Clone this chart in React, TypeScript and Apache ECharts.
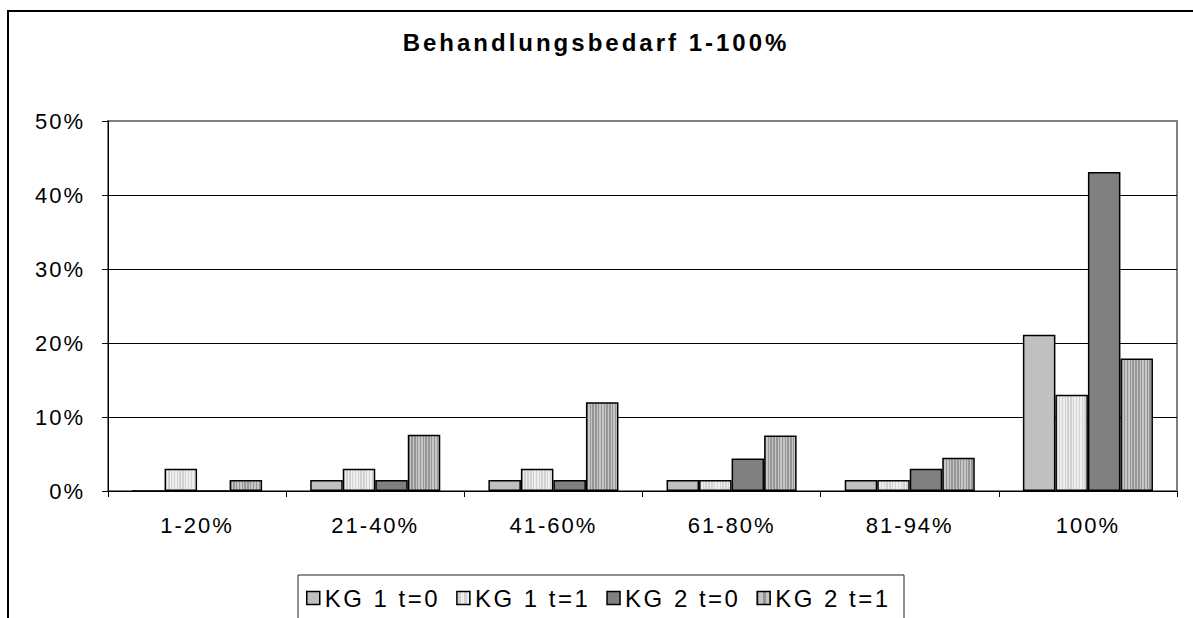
import React, { useEffect, useRef } from "react";
import * as echarts from "echarts";

const titleText = "Behandlungsbedarf 1-100%";
const categories = ["1-20%", "21-40%", "41-60%", "61-80%", "81-94%", "100%"];
const seriesNames = ["KG 1 t=0", "KG 1 t=1", "KG 2 t=0", "KG 2 t=1"];
const kg1t0 = [0, 1.5, 1.5, 1.5, 1.5, 21.1];
const kg1t1 = [3.0, 3.0, 3.0, 1.5, 1.5, 13.0];
const kg2t0 = [0, 1.5, 1.5, 4.4, 3.0, 43.1];
const kg2t1 = [1.5, 7.6, 12.0, 7.5, 4.5, 17.9];
const yMin = 0;
const yMax = 50;
const yStep = 10;

const FONT = "'Liberation Sans', Arial, sans-serif";

function stripes(a: string, b: string, n: number) {
  const stops: { offset: number; color: string }[] = [];
  for (let i = 0; i < n; i++) {
    const s = i / n;
    const m = (i + 0.5) / n;
    const e = (i + 1) / n;
    stops.push({ offset: s, color: a });
    stops.push({ offset: m, color: a });
    stops.push({ offset: m, color: b });
    stops.push({ offset: e, color: b });
  }
  return { type: "linear", x: 0, y: 0, x2: 1, y2: 0, colorStops: stops };
}

export default function App() {
  const ref = useRef<HTMLDivElement>(null);
  useEffect(() => {
    const el = ref.current!;
    const chart = echarts.init(el, null, { renderer: "svg" });
    const applySpacing = () => {
      el.querySelectorAll("text").forEach((t) => {
        const s = t.textContent || "";
        const ls = s.startsWith("Behandlungs") ? 3 : s.startsWith("KG") ? 2.5 : 2;
        t.setAttribute("letter-spacing", ls + "px");
      });
    };
    chart.on("rendered", applySpacing);
    const colors = [
      "#c0c0c0",
      stripes("#d2d2d2", "#efefef", 11),
      "#808080",
      stripes("#969696", "#c6c6c6", 11),
    ];
    const data = [kg1t0, kg1t1, kg2t0, kg2t1];
    chart.setOption({
      animation: false,
      backgroundColor: "#ffffff",
      graphic: [
        {
          type: "rect",
          z: 0,
          shape: { x: 8, y: 11, width: 1400, height: 900 },
          style: { fill: "none", stroke: "#000", lineWidth: 2 },
        },
        {
          type: "rect",
          z: 0,
          shape: { x: 298, y: 575, width: 606, height: 100 },
          style: { fill: "none", stroke: "#202020", lineWidth: 1 },
        },
        {
          type: "text",
          x: 596,
          y: 42,
          style: {
            text: titleText,
            textAlign: "center",
            textVerticalAlign: "middle",
            font: `bold 24px ${FONT}`,
            fill: "#000",
          },
        },
      ],
      grid: {
        left: 108,
        right: 16,
        top: 121,
        bottom: 127,
        show: true,
        borderColor: "#808080",
        borderWidth: 2,
        containLabel: false,
      },
      legend: {
        data: seriesNames,
        left: 306,
        top: 586,
        padding: 0,
        itemWidth: 13,
        itemHeight: 13,
        itemGap: 36,
        icon: "rect",
        itemStyle: { borderColor: "#000", borderWidth: 1.5 },
        textStyle: { fontSize: 24, fontFamily: FONT, color: "#000" },
      },
      xAxis: {
        type: "category",
        data: categories,
        axisLine: { show: true, lineStyle: { color: "#000", width: 1 } },
        axisTick: { show: true, length: 6, lineStyle: { color: "#000" } },
        axisLabel: {
          fontSize: 22,
          fontFamily: FONT,
          color: "#000",
          margin: 23,
          interval: 0,
        },
        splitLine: { show: false },
      },
      yAxis: {
        type: "value",
        min: yMin,
        max: yMax,
        interval: yStep,
        axisLine: { show: true, lineStyle: { color: "#000", width: 1 } },
        axisTick: { show: true, length: 6, lineStyle: { color: "#000" } },
        axisLabel: {
          fontSize: 22,
          fontFamily: FONT,
          color: "#000",
          margin: 23,
          formatter: "{value}%",
        },
        splitLine: {
          show: true,
          lineStyle: {
            color: ["#000", "#000", "#000", "#000", "#000", "#808080"],
            width: 1,
          },
        },
      },
      series: seriesNames.map((name, i) => ({
        name,
        type: "bar",
        data: data[i],
        barGap: "0%",
        barCategoryGap: "27%",
        itemStyle: { color: colors[i], borderColor: "#000", borderWidth: 1.5 },
      })),
    });
    applySpacing();
    return () => {
      chart.dispose();
    };
  }, []);
  return (
    <div
      ref={ref}
      style={{ position: "absolute", left: 0, top: 0, width: 1193, height: 618 }}
    />
  );
}
